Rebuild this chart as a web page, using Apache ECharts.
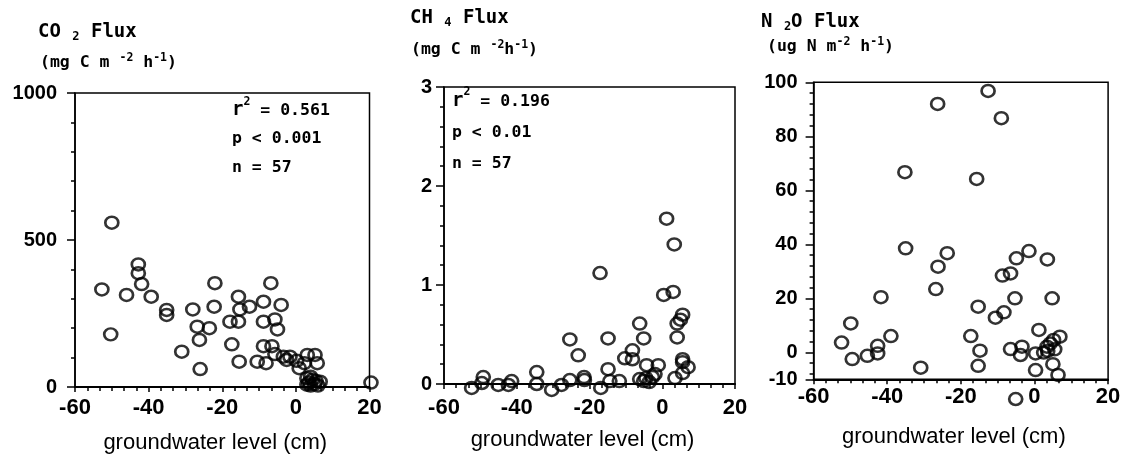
<!DOCTYPE html>
<html>
<head>
<meta charset="utf-8">
<script src="https://cdn.jsdelivr.net/npm/echarts@6/dist/echarts.min.js"></script>
<style>
  html, body { margin: 0; background: #fff; }
  #main { width: 1123px; height: 455px; }
</style>
</head>
<body>
<div id="main"></div>
<script>
// groundwater level (cm) against gas flux, 3 panels
const co2Level = [-50.0, -52.7, -50.3, -42.8, -42.8, -41.9, -46.0, -39.3, -35.1, -35.1,
  -31.0, -28.0, -26.8, -26.2, -26.0, -23.5, -22.2, -22.0, -17.9, -17.4,
  -15.6, -15.2, -15.6, -15.4, -12.6, -10.5, -8.8, -8.8, -8.8, -8.1,
  -6.8, -6.5, -5.7, -5.0, -4.0, -5.7, -3.4, -2.5, -1.6, 0.2,
  0.9, 2.3, 3.1, 5.2, 5.8, 3.0, 3.5, 4.0, 4.5, 5.0,
  5.5, 4.0, 6.0, 3.0, 6.6, 20.4];
const co2Flux = [559, 332, 179, 417, 387, 350, 313, 307, 262, 245,
  120, 264, 205, 160, 61, 200, 273, 353, 222, 145,
  307, 264, 222, 86, 273, 86, 290, 222, 139, 81,
  353, 139, 230, 196, 279, 112, 103, 92, 103, 89,
  64, 81, 109, 109, 81, 30, 15, 5, 25, 10,
  20, 35, 5, 8, 18, 15];

const ch4Level = [1.2, 3.3, -17.1, 0.4, 3.0, 5.6, 5.0, 4.1, 4.1, -6.2,
  -5.1, -25.4, -14.9, -23.1, -8.2, -10.3, -8.2, 5.6, 5.6, 7.1,
  -4.3, -1.1, -14.9, -34.5, -49.2, -41.4, -45.1, -42.3, -52.4, -49.6,
  -34.5, -30.4, -27.7, -25.4, -21.5, -21.4, -16.9, -14.4, -11.8, -6.2,
  -4.5, -3.6, -2.7, -2.0, 3.5, 5.6, -5.1];
const ch4Flux = [1.67, 1.41, 1.12, 0.90, 0.93, 0.70, 0.65, 0.61, 0.47, 0.61,
  0.46, 0.45, 0.46, 0.29, 0.34, 0.26, 0.25, 0.25, 0.22, 0.17,
  0.19, 0.19, 0.15, 0.12, 0.07, 0.03, -0.01, -0.01, -0.04, 0.01,
  0.00, -0.06, -0.01, 0.04, 0.07, 0.04, -0.04, 0.03, 0.03, 0.05,
  0.06, 0.02, 0.07, 0.10, 0.06, 0.11, 0.03];

const n2oLevel = [-12.6, -26.3, -9.0, -35.2, -15.7, -35.0, -23.7, -26.2, -26.8, -41.7,
  -49.9, -52.4, -49.5, -45.4, -42.6, -42.6, -39.0, -30.9, -17.3, -15.3,
  -14.8, -15.3, -10.6, -8.3, -8.7, -6.5, -4.9, -1.5, -5.3, 3.5,
  4.8, 1.2, -6.5, -3.4, -3.8, 0.3, 0.3, 2.5, 3.4, 4.3,
  5.2, 5.5, 6.9, 5.0, 6.4, -5.1, 3.6];
const n2oFlux = [96.8, 92.0, 86.7, 66.7, 64.2, 38.5, 36.7, 31.7, 23.4, 20.4,
  10.7, 3.6, -2.5, -1.3, 2.4, -0.4, 6.0, -5.7, 6.0, 16.9,
  0.6, -5.0, 12.8, 14.8, 28.4, 29.2, 34.8, 37.5, 20.0, 34.4,
  20.0, 8.3, 1.2, 2.1, -1.0, -0.4, -6.6, -0.1, 2.1, 3.3,
  4.6, 1.1, 5.8, -4.4, -8.4, -17.3, 0.5];

const n2oTicks = [-10, 0, 20, 40, 60, 80, 100];
const n2oMinor = [-8, -4, 4, 8, 12, 16, 24, 28, 32, 36, 44, 48, 52, 56, 64, 68, 72, 76, 84, 88, 92, 96];

const zip = (a, b) => a.map((v, i) => [v, b[i]]);

const sans = "'Liberation Sans', Arial, sans-serif";
const mono = "'DejaVu Sans Mono', 'Liberation Mono', monospace";

const rich = {
  a: { fontFamily: mono, fontWeight: 'bold', fontSize: 19, color: '#000' },
  u: { fontFamily: mono, fontWeight: 'bold', fontSize: 16.5, color: '#000' },
  sub: { fontFamily: mono, fontWeight: 'bold', fontSize: 12, color: '#000', verticalAlign: 'bottom' },
  sup: { fontFamily: mono, fontWeight: 'bold', fontSize: 11.5, color: '#000', verticalAlign: 'top' },
  s: { fontFamily: mono, fontWeight: 'bold', fontSize: 16.5, color: '#000' }
};

function txt(text, left, top, lineHeight) {
  return {
    text: text, left: left, top: top, padding: 0,
    textStyle: { rich: rich, lineHeight: lineHeight || 22 }
  };
}

const plain = v => String(v);

function xAx(gi, margin, gap) {
  return {
    type: 'value', gridIndex: gi, min: -60, max: 20, interval: 20,
    name: 'groundwater level (cm)', nameLocation: 'middle', nameGap: gap,
    nameTextStyle: { fontFamily: sans, fontSize: 22, color: '#000', padding: [0, 14, 0, 0] },
    axisLine: { onZero: false, lineStyle: { color: '#000', width: 2 } },
    axisTick: { length: 5, lineStyle: { color: '#000', width: 1.5 } },
    minorTick: { show: true, splitNumber: 6, length: 4, lineStyle: { color: '#000', width: 1.5 } },
    axisLabel: { fontFamily: sans, fontWeight: 'bold', fontSize: 22, color: '#000', margin: margin, formatter: plain },
    splitLine: { show: false }
  };
}

function yAx(gi, min, max, interval, split, margin) {
  return {
    type: 'value', gridIndex: gi, min: min, max: max, interval: interval,
    axisLine: { show: true, onZero: false, lineStyle: { color: '#000', width: 1.5 } },
    axisTick: { show: true, length: 8, lineStyle: { color: '#000', width: 1.5 } },
    minorTick: { show: true, splitNumber: split, length: 4, lineStyle: { color: '#000', width: 1.5 } },
    axisLabel: { fontFamily: sans, fontWeight: 'bold', fontSize: 20, color: '#000', margin: margin, formatter: plain },
    splitLine: { show: false }
  };
}

const n2oY = yAx(2, -10, 100, null, 5, 16);
delete n2oY.interval;
n2oY.minorTick = { show: false };
n2oY.axisTick.customValues = n2oTicks;
n2oY.axisLabel.customValues = n2oTicks;

const n2oYMinor = {
  type: 'value', gridIndex: 2, min: -10, max: 100, position: 'left',
  axisLine: { show: false, onZero: false },
  axisTick: { show: true, length: 4, customValues: n2oMinor, lineStyle: { color: '#000', width: 1.5 } },
  axisLabel: { show: false },
  splitLine: { show: false }
};

const marker = {
  type: 'scatter', symbol: 'circle', symbolSize: [13, 12], clip: false,
  itemStyle: { color: 'rgba(0,0,0,0)', borderColor: '#000', borderWidth: 2.6 },
  emphasis: { disabled: true }, silent: true
};

const box = { show: true, borderColor: '#000', borderWidth: 1.5, outerBoundsMode: 'none' };

const chart = echarts.init(document.getElementById('main'), null, { renderer: 'canvas' });
chart.setOption({
  backgroundColor: '#fff',
  animation: false,
  title: [
    txt('{a|CO }{sub|2}{a| Flux}', 38, 21),
    txt('{u|(mg C m }{sup|-2}{u| h}{sup|-1}{u|)}', 40, 52),
    txt('{a|r}{sup|2}{s| = 0.561}\n{s|p < 0.001}\n{s|n = 57}', 232, 96, 28.5),
    txt('{a|CH }{sub|4}{a| Flux}', 410, 7),
    txt('{u|(mg C m }{sup|-2}{u|h}{sup|-1}{u|)}', 411, 39),
    txt('{a|r}{sup|2}{s| = 0.196}\n{s|p < 0.01}\n{s|n = 57}', 452, 86, 31),
    txt('{a|N }{sub|2}{a|O Flux}', 761, 11),
    txt('{u|(ug N m}{sup|-2}{u| h}{sup|-1}{u|)}', 767, 36)
  ],
  grid: [
    Object.assign({ left: 75, top: 93, width: 294.5, height: 294 }, box),
    Object.assign({ left: 444, top: 87, width: 291, height: 297 }, box),
    Object.assign({ left: 813.6, top: 82.3, width: 294.5, height: 297 }, box)
  ],
  xAxis: [xAx(0, 10, 45), xAx(1, 13, 45), xAx(2, 7, 47)],
  yAxis: [
    yAx(0, 0, 1000, 500, 5, 18),
    yAx(1, 0, 3, 1, 5, 12),
    n2oY,
    n2oYMinor
  ],
  series: [
    Object.assign({}, marker, { name: 'CO2', xAxisIndex: 0, yAxisIndex: 0, data: zip(co2Level, co2Flux) }),
    Object.assign({}, marker, { name: 'CH4', xAxisIndex: 1, yAxisIndex: 1, data: zip(ch4Level, ch4Flux) }),
    Object.assign({}, marker, { name: 'N2O', xAxisIndex: 2, yAxisIndex: 2, data: zip(n2oLevel, n2oFlux) })
  ]
});
</script>
</body>
</html>
